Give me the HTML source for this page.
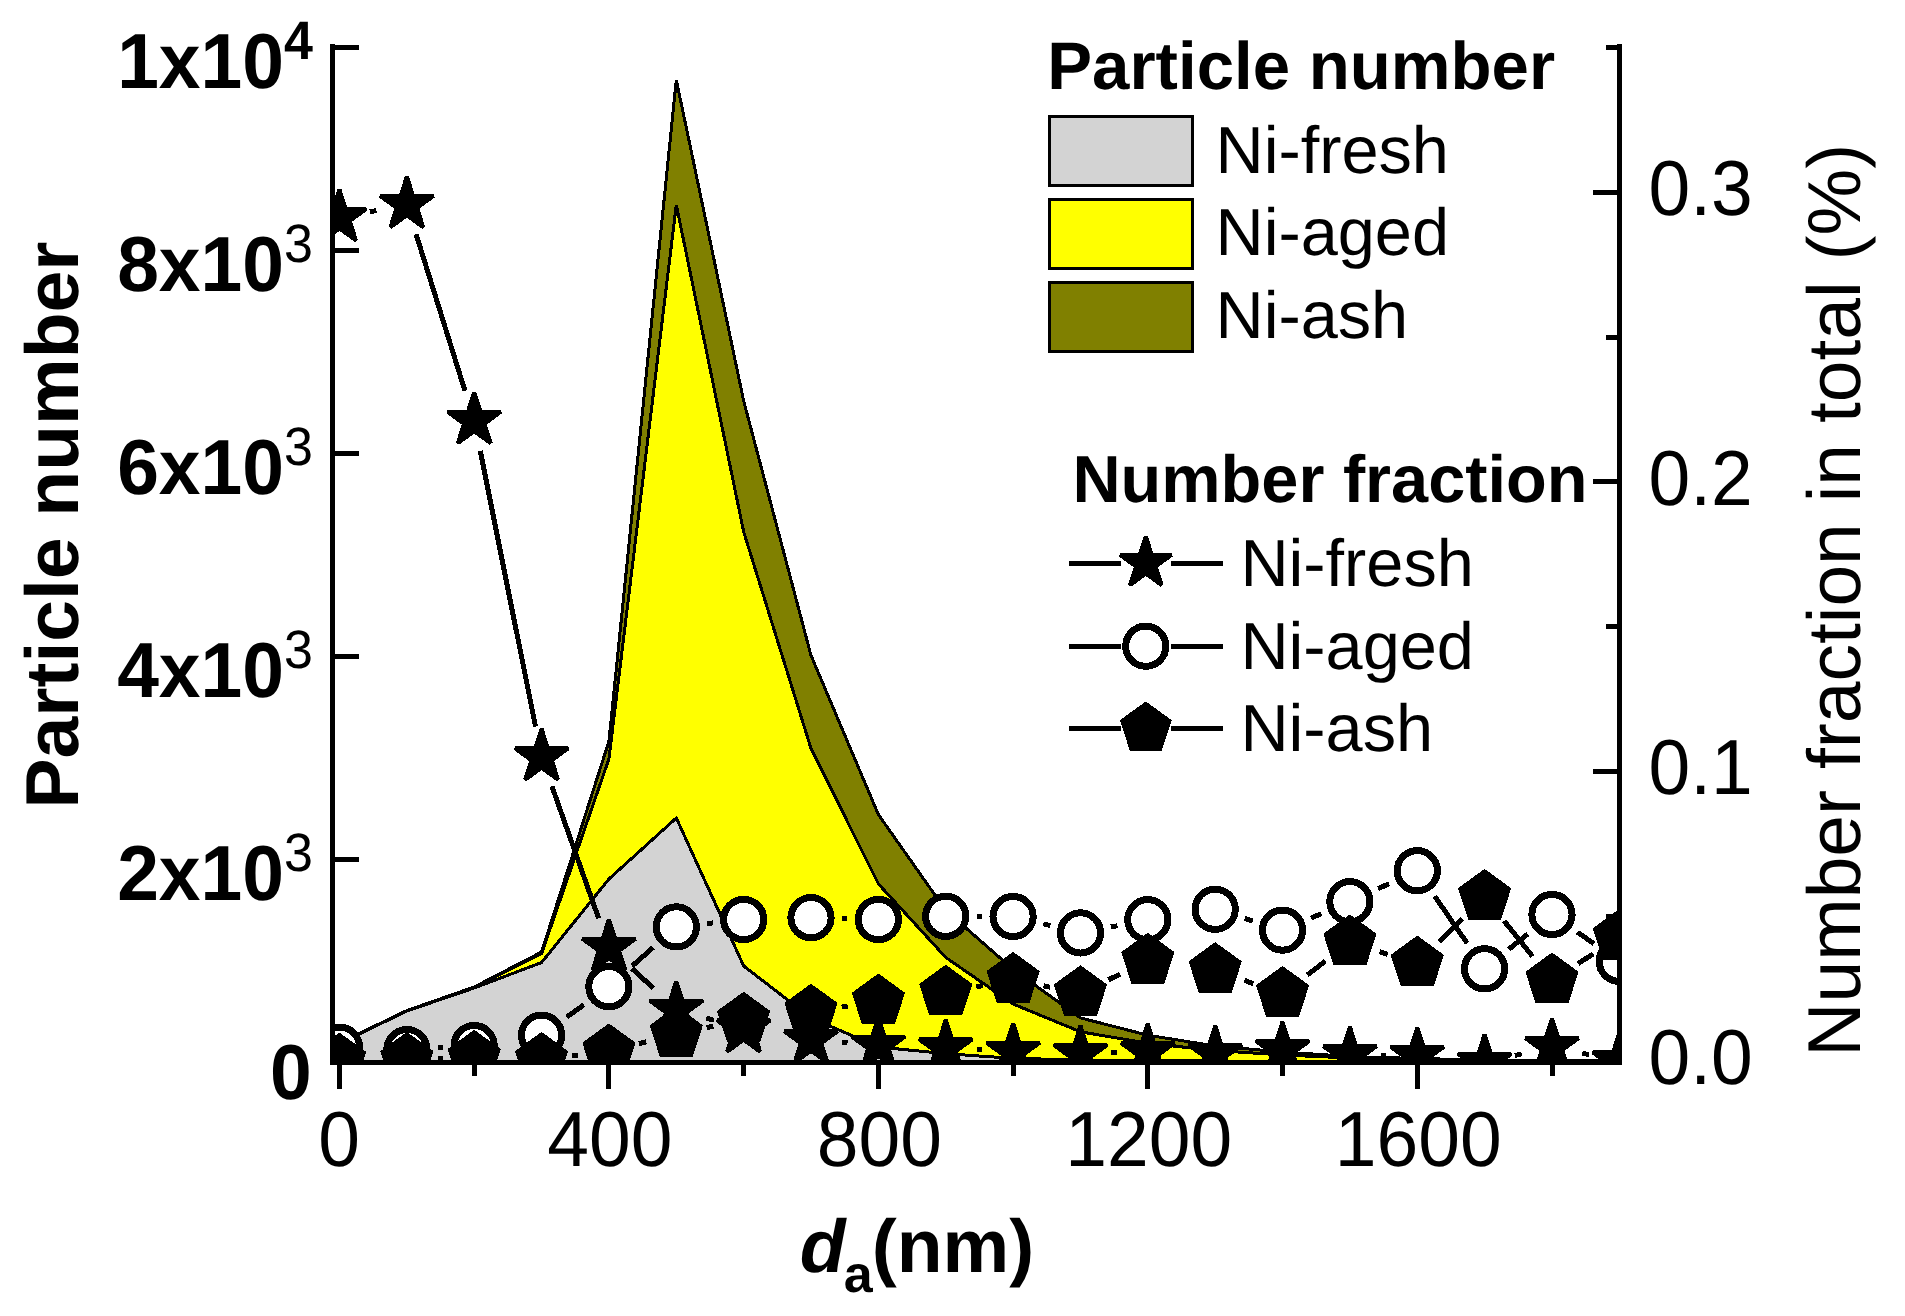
<!DOCTYPE html>
<html><head><meta charset="utf-8"><title>Particle number chart</title>
<style>html,body{margin:0;padding:0;background:#fff}body{width:1905px;height:1316px;overflow:hidden}</style></head>
<body>
<svg width="1905" height="1316" viewBox="0 0 1905 1316" style="display:block;font-family:'Liberation Sans',Arial,sans-serif" shape-rendering="crispEdges">
<rect width="1905" height="1316" fill="#fff"/>
<defs><clipPath id="cp"><rect x="332.6" y="0.0" width="1286.9" height="1062.0"/></clipPath></defs>
<g clip-path="url(#cp)">
<polygon points="339.5,1062.0 339.5,1043.0 406.9,1010.5 474.2,987.0 541.6,952.0 608.9,741.4 676.3,80.0 743.7,401.0 811.0,655.4 878.4,814.6 945.7,910.3 1013.1,969.4 1080.5,1017.9 1147.8,1035.2 1215.2,1046.0 1282.5,1052.0 1349.9,1056.5 1417.3,1058.5 1484.6,1060.0 1552.0,1060.5 1619.3,1061.0 1619.3,1062.0" fill="#808000" stroke="#000" stroke-width="3" stroke-linejoin="miter"/>
<polygon points="339.5,1062.0 339.5,1043.3 406.9,1010.8 474.2,987.5 541.6,953.5 608.9,759.0 676.3,205.0 743.7,531.9 811.0,748.5 878.4,883.9 945.7,957.4 1013.1,1004.0 1080.5,1031.8 1147.8,1043.3 1215.2,1050.5 1282.5,1055.0 1349.9,1058.0 1417.3,1059.5 1484.6,1060.5 1552.0,1061.0 1619.3,1061.3 1619.3,1062.0" fill="#ffff00" stroke="#000" stroke-width="3" stroke-linejoin="miter"/>
<polygon points="339.5,1062.0 339.5,1043.6 406.9,1011.0 474.2,988.0 541.6,962.5 608.9,879.0 676.3,818.0 743.7,966.0 811.0,1017.9 878.4,1047.0 945.7,1053.7 1013.1,1058.3 1080.5,1060.0 1147.8,1060.5 1215.2,1061.0 1282.5,1061.2 1349.9,1061.4 1417.3,1061.5 1484.6,1061.6 1552.0,1061.7 1619.3,1061.8 1619.3,1062.0" fill="#d3d3d3" stroke="#000" stroke-width="3" stroke-linejoin="miter"/>
<path d="M369.9 211.8L376.4 210.5M416.1 234.2L465.0 390.9M480.3 450.9L535.5 726.6M551.9 786.2L598.6 918.2M631.8 968.4L653.5 988.3M706.1 1018.0L713.9 1020.3M841.9 1042.4L847.5 1042.9M976.7 1049.6L982.1 1049.8M1111.4 1052.8L1116.8 1052.7M1380.9 1055.2L1386.3 1055.2M1514.8 1055.5L1521.8 1053.8M1582.3 1053.2L1589.0 1054.6" stroke="#000" stroke-width="5" fill="none"/>
<polygon points="339.5,189.7 345.8,209.0 366.1,209.0 349.7,221.0 356.0,240.4 339.5,228.4 323.0,240.4 329.3,221.0 312.9,209.0 333.2,209.0" fill="#000" stroke="#000" stroke-width="4" stroke-linejoin="bevel"/>
<polygon points="406.9,176.6 413.1,195.9 433.5,195.9 417.0,207.9 423.3,227.3 406.9,215.3 390.4,227.3 396.7,207.9 380.2,195.9 400.6,195.9" fill="#000" stroke="#000" stroke-width="4" stroke-linejoin="bevel"/>
<polygon points="474.2,392.5 480.5,411.8 500.8,411.8 484.4,423.8 490.7,443.2 474.2,431.2 457.8,443.2 464.0,423.8 447.6,411.8 467.9,411.8" fill="#000" stroke="#000" stroke-width="4" stroke-linejoin="bevel"/>
<polygon points="541.6,729.0 547.9,748.3 568.2,748.3 551.8,760.3 558.0,779.7 541.6,767.7 525.1,779.7 531.4,760.3 515.0,748.3 535.3,748.3" fill="#000" stroke="#000" stroke-width="4" stroke-linejoin="bevel"/>
<polygon points="608.9,919.4 615.2,938.7 635.6,938.7 619.1,950.7 625.4,970.1 608.9,958.1 592.5,970.1 598.8,950.7 582.3,938.7 602.7,938.7" fill="#000" stroke="#000" stroke-width="4" stroke-linejoin="bevel"/>
<polygon points="676.3,981.3 682.6,1000.6 702.9,1000.6 686.5,1012.6 692.8,1032.0 676.3,1020.0 659.8,1032.0 666.1,1012.6 649.7,1000.6 670.0,1000.6" fill="#000" stroke="#000" stroke-width="4" stroke-linejoin="bevel"/>
<polygon points="743.7,1001.0 749.9,1020.3 770.3,1020.3 753.8,1032.3 760.1,1051.7 743.7,1039.7 727.2,1051.7 733.5,1032.3 717.0,1020.3 737.4,1020.3" fill="#000" stroke="#000" stroke-width="4" stroke-linejoin="bevel"/>
<polygon points="811.0,1012.0 817.3,1031.3 837.6,1031.3 821.2,1043.3 827.5,1062.7 811.0,1050.7 794.6,1062.7 800.8,1043.3 784.4,1031.3 804.7,1031.3" fill="#000" stroke="#000" stroke-width="4" stroke-linejoin="bevel"/>
<polygon points="878.4,1017.3 884.7,1036.6 905.0,1036.6 888.6,1048.6 894.8,1068.0 878.4,1056.0 861.9,1068.0 868.2,1048.6 851.8,1036.6 872.1,1036.6" fill="#000" stroke="#000" stroke-width="4" stroke-linejoin="bevel"/>
<polygon points="945.7,1020.0 952.0,1039.3 972.4,1039.3 955.9,1051.3 962.2,1070.7 945.7,1058.7 929.3,1070.7 935.6,1051.3 919.1,1039.3 939.5,1039.3" fill="#000" stroke="#000" stroke-width="4" stroke-linejoin="bevel"/>
<polygon points="1013.1,1023.4 1019.4,1042.7 1039.7,1042.7 1023.3,1054.7 1029.6,1074.1 1013.1,1062.1 996.6,1074.1 1002.9,1054.7 986.5,1042.7 1006.8,1042.7" fill="#000" stroke="#000" stroke-width="4" stroke-linejoin="bevel"/>
<polygon points="1080.5,1025.7 1086.7,1045.0 1107.1,1045.0 1090.6,1057.0 1096.9,1076.4 1080.5,1064.4 1064.0,1076.4 1070.3,1057.0 1053.8,1045.0 1074.2,1045.0" fill="#000" stroke="#000" stroke-width="4" stroke-linejoin="bevel"/>
<polygon points="1147.8,1023.8 1154.1,1043.1 1174.4,1043.1 1158.0,1055.1 1164.3,1074.5 1147.8,1062.5 1131.4,1074.5 1137.6,1055.1 1121.2,1043.1 1141.5,1043.1" fill="#000" stroke="#000" stroke-width="4" stroke-linejoin="bevel"/>
<polygon points="1215.2,1025.7 1221.5,1045.0 1241.8,1045.0 1225.4,1057.0 1231.6,1076.4 1215.2,1064.4 1198.7,1076.4 1205.0,1057.0 1188.6,1045.0 1208.9,1045.0" fill="#000" stroke="#000" stroke-width="4" stroke-linejoin="bevel"/>
<polygon points="1282.5,1021.8 1288.8,1041.1 1309.2,1041.1 1292.7,1053.1 1299.0,1072.5 1282.5,1060.5 1266.1,1072.5 1272.4,1053.1 1255.9,1041.1 1276.3,1041.1" fill="#000" stroke="#000" stroke-width="4" stroke-linejoin="bevel"/>
<polygon points="1349.9,1026.9 1356.2,1046.2 1376.5,1046.2 1360.1,1058.2 1366.4,1077.6 1349.9,1065.6 1333.4,1077.6 1339.7,1058.2 1323.3,1046.2 1343.6,1046.2" fill="#000" stroke="#000" stroke-width="4" stroke-linejoin="bevel"/>
<polygon points="1417.3,1027.5 1423.5,1046.8 1443.9,1046.8 1427.4,1058.8 1433.7,1078.2 1417.3,1066.2 1400.8,1078.2 1407.1,1058.8 1390.6,1046.8 1411.0,1046.8" fill="#000" stroke="#000" stroke-width="4" stroke-linejoin="bevel"/>
<polygon points="1484.6,1034.5 1490.9,1053.8 1511.2,1053.8 1494.8,1065.8 1501.1,1085.2 1484.6,1073.2 1468.2,1085.2 1474.4,1065.8 1458.0,1053.8 1478.3,1053.8" fill="#000" stroke="#000" stroke-width="4" stroke-linejoin="bevel"/>
<polygon points="1552.0,1018.8 1558.3,1038.1 1578.6,1038.1 1562.2,1050.1 1568.4,1069.5 1552.0,1057.5 1535.5,1069.5 1541.8,1050.1 1525.4,1038.1 1545.7,1038.1" fill="#000" stroke="#000" stroke-width="4" stroke-linejoin="bevel"/>
<polygon points="1619.3,1033.0 1625.6,1052.3 1646.0,1052.3 1629.5,1064.3 1635.8,1083.7 1619.3,1071.7 1602.9,1083.7 1609.2,1064.3 1592.7,1052.3 1613.1,1052.3" fill="#000" stroke="#000" stroke-width="4" stroke-linejoin="bevel"/>
<path d="M437.8 1047.8L443.3 1047.4M566.7 1017.1L583.8 1004.8M632.1 966.1L653.1 947.5M707.1 923.5L712.8 922.9M842.0 918.5L847.4 918.7M976.7 916.4L982.1 916.4M1043.2 923.8L1050.3 925.6M1110.9 926.9L1117.4 925.7M1244.8 918.4L1252.9 921.0M1311.1 918.1L1321.3 913.7M1378.1 888.7L1389.1 883.7M1434.8 896.3L1467.1 943.2M1508.8 949.3L1527.8 934.0M1577.4 932.2L1593.9 943.6" stroke="#000" stroke-width="5" fill="none"/>
<circle cx="339.5" cy="1047.2" r="20.1" fill="#fff" stroke="#000" stroke-width="7"/>
<circle cx="406.9" cy="1049.6" r="20.1" fill="#fff" stroke="#000" stroke-width="7"/>
<circle cx="474.2" cy="1045.6" r="20.1" fill="#fff" stroke="#000" stroke-width="7"/>
<circle cx="541.6" cy="1035.2" r="20.1" fill="#fff" stroke="#000" stroke-width="7"/>
<circle cx="608.9" cy="986.7" r="20.1" fill="#fff" stroke="#000" stroke-width="7"/>
<circle cx="676.3" cy="926.9" r="20.1" fill="#fff" stroke="#000" stroke-width="7"/>
<circle cx="743.7" cy="919.5" r="20.1" fill="#fff" stroke="#000" stroke-width="7"/>
<circle cx="811.0" cy="917.7" r="20.1" fill="#fff" stroke="#000" stroke-width="7"/>
<circle cx="878.4" cy="919.5" r="20.1" fill="#fff" stroke="#000" stroke-width="7"/>
<circle cx="945.7" cy="916.3" r="20.1" fill="#fff" stroke="#000" stroke-width="7"/>
<circle cx="1013.1" cy="916.5" r="20.1" fill="#fff" stroke="#000" stroke-width="7"/>
<circle cx="1080.5" cy="932.9" r="20.1" fill="#fff" stroke="#000" stroke-width="7"/>
<circle cx="1147.8" cy="919.7" r="20.1" fill="#fff" stroke="#000" stroke-width="7"/>
<circle cx="1215.2" cy="909.3" r="20.1" fill="#fff" stroke="#000" stroke-width="7"/>
<circle cx="1282.5" cy="930.1" r="20.1" fill="#fff" stroke="#000" stroke-width="7"/>
<circle cx="1349.9" cy="901.7" r="20.1" fill="#fff" stroke="#000" stroke-width="7"/>
<circle cx="1417.3" cy="870.7" r="20.1" fill="#fff" stroke="#000" stroke-width="7"/>
<circle cx="1484.6" cy="968.8" r="20.1" fill="#fff" stroke="#000" stroke-width="7"/>
<circle cx="1552.0" cy="914.5" r="20.1" fill="#fff" stroke="#000" stroke-width="7"/>
<circle cx="1619.3" cy="961.3" r="20.1" fill="#fff" stroke="#000" stroke-width="7"/>
<path d="M437.8 1058.9L443.2 1058.8M572.3 1056.0L578.2 1055.3M639.0 1043.6L646.3 1041.8M706.6 1027.6L713.3 1026.1M841.7 1007.1L847.7 1006.1M976.2 986.9L982.7 985.6M1043.5 985.8L1050.1 987.2M1108.4 979.8L1119.9 974.2M1244.4 980.4L1253.3 983.6M1307.2 975.1L1325.3 961.2M1379.5 951.7L1387.7 954.3M1439.3 941.8L1462.6 918.7M1504.1 921.0L1532.5 956.4M1578.0 963.7L1593.3 953.8" stroke="#000" stroke-width="5" fill="none"/>
<polygon points="339.5,1032.6 366.1,1051.9 356.0,1083.3 323.0,1083.3 312.9,1051.9" fill="#000"/>
<polygon points="406.9,1031.9 433.5,1051.2 423.3,1082.6 390.4,1082.6 380.2,1051.2" fill="#000"/>
<polygon points="474.2,1029.8 500.8,1049.1 490.7,1080.5 457.8,1080.5 447.6,1049.1" fill="#000"/>
<polygon points="541.6,1031.9 568.2,1051.2 558.0,1082.6 525.1,1082.6 515.0,1051.2" fill="#000"/>
<polygon points="608.9,1023.4 635.6,1042.7 625.4,1074.1 592.5,1074.1 582.3,1042.7" fill="#000"/>
<polygon points="676.3,1006.0 702.9,1025.3 692.8,1056.7 659.8,1056.7 649.7,1025.3" fill="#000"/>
<polygon points="743.7,991.7 770.3,1011.0 760.1,1042.4 727.2,1042.4 717.0,1011.0" fill="#000"/>
<polygon points="811.0,983.7 837.6,1003.0 827.5,1034.4 794.6,1034.4 784.4,1003.0" fill="#000"/>
<polygon points="878.4,973.5 905.0,992.8 894.8,1024.2 861.9,1024.2 851.8,992.8" fill="#000"/>
<polygon points="945.7,964.7 972.4,984.0 962.2,1015.4 929.3,1015.4 919.1,984.0" fill="#000"/>
<polygon points="1013.1,951.8 1039.7,971.1 1029.6,1002.5 996.6,1002.5 986.5,971.1" fill="#000"/>
<polygon points="1080.5,965.2 1107.1,984.5 1096.9,1015.9 1064.0,1015.9 1053.8,984.5" fill="#000"/>
<polygon points="1147.8,932.8 1174.4,952.1 1164.3,983.5 1131.4,983.5 1121.2,952.1" fill="#000"/>
<polygon points="1215.2,942.1 1241.8,961.4 1231.6,992.8 1198.7,992.8 1188.6,961.4" fill="#000"/>
<polygon points="1282.5,965.9 1309.2,985.2 1299.0,1016.6 1266.1,1016.6 1255.9,985.2" fill="#000"/>
<polygon points="1349.9,914.4 1376.5,933.7 1366.4,965.1 1333.4,965.1 1323.3,933.7" fill="#000"/>
<polygon points="1417.3,935.6 1443.9,954.9 1433.7,986.3 1400.8,986.3 1390.6,954.9" fill="#000"/>
<polygon points="1484.6,868.9 1511.2,888.2 1501.1,919.6 1468.2,919.6 1458.0,888.2" fill="#000"/>
<polygon points="1552.0,952.5 1578.6,971.8 1568.4,1003.2 1535.5,1003.2 1525.4,971.8" fill="#000"/>
<polygon points="1619.3,909.0 1646.0,928.3 1635.8,959.7 1602.9,959.7 1592.7,928.3" fill="#000"/>
</g>
<g stroke="#000" stroke-width="5" fill="none" stroke-linecap="butt">
<path d="M332.6 44.1V1064.5"/>
<path d="M1619.5 44.1V1064.5"/>
<path d="M330.1 1062.0H1622.0"/>
<path d="M332.6 859.0H359.0"/>
<path d="M332.6 656.0H359.0"/>
<path d="M332.6 453.0H359.0"/>
<path d="M332.6 250.0H359.0"/>
<path d="M332.6 47.0H359.0"/>
<path d="M1619.5 916.2H1605.5"/>
<path d="M1619.5 771.4H1593.0"/>
<path d="M1619.5 626.6H1605.5"/>
<path d="M1619.5 481.8H1593.0"/>
<path d="M1619.5 337.0H1605.5"/>
<path d="M1619.5 192.2H1593.0"/>
<path d="M1619.5 47.4H1605.5"/>
<path d="M339.5 1062.0V1089.0"/>
<path d="M474.2 1062.0V1075.7"/>
<path d="M608.9 1062.0V1089.0"/>
<path d="M743.7 1062.0V1075.7"/>
<path d="M878.4 1062.0V1089.0"/>
<path d="M1013.1 1062.0V1075.7"/>
<path d="M1147.8 1062.0V1089.0"/>
<path d="M1282.5 1062.0V1075.7"/>
<path d="M1417.3 1062.0V1089.0"/>
<path d="M1552.0 1062.0V1075.7"/>
</g>
<g fill="#000" text-rendering="geometricPrecision">
<text transform="translate(339.2 1166.3) scale(1 1.04)" font-size="75" text-anchor="middle">0</text>
<text transform="translate(609.8 1166.3) scale(1 1.04)" font-size="75" text-anchor="middle">400</text>
<text transform="translate(879.3 1166.3) scale(1 1.04)" font-size="75" text-anchor="middle">800</text>
<text transform="translate(1148.7 1166.3) scale(1 1.04)" font-size="75" text-anchor="middle">1200</text>
<text transform="translate(1418.2 1166.3) scale(1 1.04)" font-size="75" text-anchor="middle">1600</text>
<text transform="translate(1648.5 1083.7) scale(1 1.04)" font-size="75">0.0</text>
<text transform="translate(1648.5 794.1) scale(1 1.04)" font-size="75">0.1</text>
<text transform="translate(1648.5 504.5) scale(1 1.04)" font-size="75">0.2</text>
<text transform="translate(1648.5 214.9) scale(1 1.04)" font-size="75">0.3</text>
<text transform="translate(284 88.0) scale(1 1.04)" font-size="75" font-weight="bold" text-anchor="end">1x10</text>
<text transform="translate(284 58.6) scale(1 1.04)" font-size="52" font-weight="bold">4</text>
<text transform="translate(284 291.0) scale(1 1.04)" font-size="75" font-weight="bold" text-anchor="end">8x10</text>
<text transform="translate(284 261.6) scale(1 1.04)" font-size="52" font-weight="normal">3</text>
<text transform="translate(284 494.0) scale(1 1.04)" font-size="75" font-weight="bold" text-anchor="end">6x10</text>
<text transform="translate(284 464.6) scale(1 1.04)" font-size="52" font-weight="normal">3</text>
<text transform="translate(284 697.0) scale(1 1.04)" font-size="75" font-weight="bold" text-anchor="end">4x10</text>
<text transform="translate(284 667.6) scale(1 1.04)" font-size="52" font-weight="normal">3</text>
<text transform="translate(284 900.0) scale(1 1.04)" font-size="75" font-weight="bold" text-anchor="end">2x10</text>
<text transform="translate(284 870.6) scale(1 1.04)" font-size="52" font-weight="normal">3</text>
<text transform="translate(311.7 1098.6) scale(1 1.04)" font-size="75" font-weight="bold" text-anchor="end">0</text>
<text transform="translate(78.1 808.5) rotate(-90)" font-size="75" font-weight="bold">Particle number</text>
<text transform="translate(1859.6 1056.7) rotate(-90)" font-size="75">Number fraction in total (%)</text>
<text x="799.8" y="1271.9" font-size="75" font-weight="bold" font-style="italic">d</text>
<text x="843.8" y="1291.7" font-size="52" font-weight="bold">a</text>
<text x="871.8" y="1271.9" font-size="75" font-weight="bold">(nm)</text>
<text x="1047.3" y="89" font-size="67.2" font-weight="bold">Particle number</text>
<rect x="1049.5" y="116.5" width="143" height="69" fill="#d3d3d3" stroke="#000" stroke-width="2.5"/>
<text x="1215.5" y="172.7" font-size="66.7">Ni-fresh</text>
<rect x="1049.5" y="199.4" width="143" height="69" fill="#ffff00" stroke="#000" stroke-width="2.5"/>
<text x="1215.5" y="255.2" font-size="66.7">Ni-aged</text>
<rect x="1049.5" y="282.3" width="143" height="69" fill="#808000" stroke="#000" stroke-width="2.5"/>
<text x="1215.5" y="337.6" font-size="66.7">Ni-ash</text>
<text x="1072.4" y="501.6" font-size="66.7" font-weight="bold">Number fraction</text>
<path d="M1069.3 563.3H1120.8M1170.8 563.3H1223.1" stroke="#000" stroke-width="5" fill="none"/>
<polygon points="1145.8,536.4 1151.8,555.0 1171.4,555.0 1155.6,566.5 1161.6,585.1 1145.8,573.6 1130.0,585.1 1136.0,566.5 1120.2,555.0 1139.8,555.0" fill="#000" stroke="#000" stroke-width="4" stroke-linejoin="bevel"/>
<text x="1240.4" y="586.3" font-size="66.7">Ni-fresh</text>
<path d="M1069.3 646.2H1120.8M1170.8 646.2H1223.1" stroke="#000" stroke-width="5" fill="none"/>
<circle cx="1145.8" cy="646.2" r="20.1" fill="#fff" stroke="#000" stroke-width="7"/>
<text x="1240.4" y="669.0" font-size="66.7">Ni-aged</text>
<path d="M1069.3 728.6H1120.8M1170.8 728.6H1223.1" stroke="#000" stroke-width="5" fill="none"/>
<polygon points="1145.8,701.4 1171.7,720.2 1161.8,750.6 1129.8,750.6 1119.9,720.2" fill="#000"/>
<text x="1240.4" y="751.0" font-size="66.7">Ni-ash</text>
</g>
</svg>
</body></html>
